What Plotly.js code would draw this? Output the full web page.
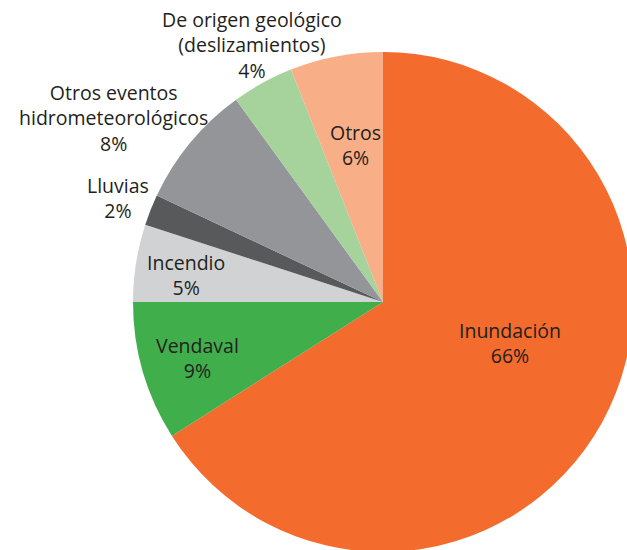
<!DOCTYPE html>
<html>
<head>
<meta charset="utf-8">
<script src="https://cdn.plot.ly/plotly-3.0.1.min.js"></script>
<style>
html,body{margin:0;padding:0;overflow:hidden;background:#fff;width:627px;height:550px;}
#chart{width:640px;height:554px;}
</style>
</head>
<body>
<div id="chart"></div>
<script>
var labels = ["Inundación", "Vendaval", "Incendio", "Lluvias", "Otros eventos<br>hidrometeorológicos", "De origen geológico<br>(deslizamientos)", "Otros"];
var values = [66, 9, 5, 2, 8, 4, 6];
var colors = ["#F36B2D", "#3FAE4B", "#D1D2D4", "#58595B", "#939598", "#A6D39C", "#F8AE86"];
// label block centres in pixels (x, y) on the 640x554 canvas
var labelX = [510, 197, 186, 118, 113, 252, 355];
var labelY = [343, 358, 275, 198, 118, 45, 145];

var W = 640, H = 554;
var cx = 383, cy = 302, R = 250;

var annotations = labels.map(function(l, i) {
  return {
    text: l + "<br>" + values[i] + "%",
    x: labelX[i] / W, y: 1 - labelY[i] / H,
    xref: "paper", yref: "paper",
    xanchor: "center", yanchor: "middle",
    align: "center",
    showarrow: false,
    font: {family: "Open Sans, sans-serif", size: 19.5, color: "#231F20"}
  };
});

var trace = {
  type: "pie",
  labels: labels,
  values: values,
  sort: false,
  direction: "clockwise",
  rotation: 0,
  textinfo: "none",
  hoverinfo: "label+percent",
  marker: {colors: colors, line: {width: 0}},
  domain: {x: [(cx - R) / W, (cx + R) / W], y: [(H - cy - R) / H, (H - cy + R) / H]},
  showlegend: false
};

Plotly.newPlot("chart", [trace], {
  width: W, height: H,
  margin: {l: 0, r: 0, t: 0, b: 0},
  paper_bgcolor: "#fff",
  showlegend: false,
  annotations: annotations
}, {displayModeBar: false, staticPlot: true});
</script>
</body>
</html>
